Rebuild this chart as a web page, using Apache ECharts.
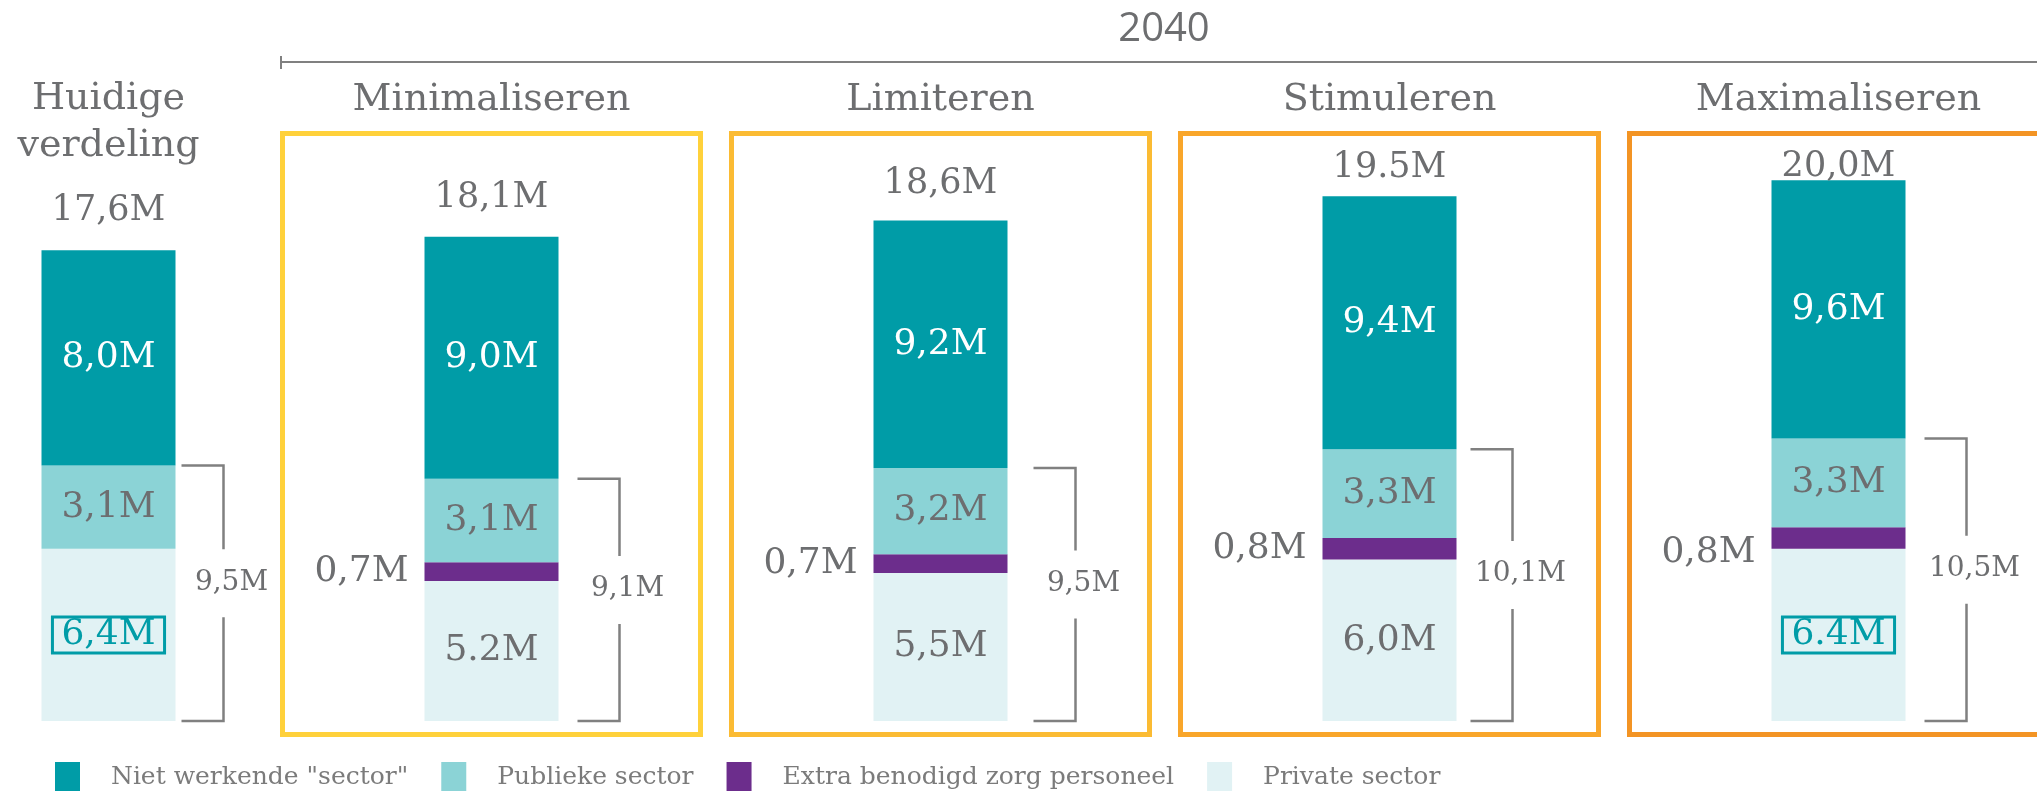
<!DOCTYPE html>
<html>
<head>
<meta charset="utf-8">
<script src="https://cdn.jsdelivr.net/npm/echarts@6/dist/echarts.min.js"></script>
<style>
  html, body { margin: 0; padding: 0; background: #fff; }
  #chart { width: 2037px; height: 791px; }
</style>
</head>
<body>
<div id="chart"></div>
<script>
// categories: first one is today, the other four are the 2040 scenarios
const categories = ['Huidige\nverdeling', 'Minimaliseren', 'Limiteren', 'Stimuleren', 'Maximaliseren']
const seriesNames = ['Niet werkende "sector"', 'Publieke sector', 'Extra benodigd zorg personeel', 'Private sector']

// values in millions
const nietWerkend = [8.0, 9.0, 9.2, 9.4, 9.6]
const publiek = [3.1, 3.1, 3.2, 3.3, 3.3]
const extraZorg = [0, 0.7, 0.7, 0.8, 0.8]
const privaat = [6.4, 5.2, 5.5, 6.0, 6.4]

// texts as printed in the picture
const privaatLabels = ['6,4M', '5.2M', '5,5M', '6,0M', '6.4M']
const privaatOmkaderd = [true, false, false, false, true]
const totaalLabels = ['17,6M', '18,1M', '18,6M', '19.5M', '20,0M']
const werkendLabels = ['9,5M', '9,1M', '9,5M', '10,1M', '10,5M']
const periodeLabel = '2040'

const groups = [[0], [1, 2, 3, 4]]

const gray = '#6d6e70'
const lineGray = '#808080'
const serif = "'DejaVu Serif', serif"
const colors = ['#009ca7', '#8bd3d6', '#6c2d8c', '#e1f2f4']
const boxColors = ['#ffd13b', '#fbbb33', '#f9a62a', '#f39424']
// small per-bar nudges so labels sit where the original put them
const totalLift = [19, 19, 17, 8, -7]
const extraDrop = [0, 0, 0, 0, 15]
const bracketGap = [6, 19, 26, 14, 19]
const barWidth = 134

const comma = (v) => v.toFixed(1).replace('.', ',') + 'M'

const chart = echarts.init(document.getElementById('chart'))

const bracketRenderer = (idxs) => (params, api) => {
  const i = idxs[params.dataIndex]
  const base = api.coord([api.value(0), 0])
  const top = api.coord([api.value(0), api.value(1)])
  const x1 = base[0] + barWidth / 2 + bracketGap[i]
  const x2 = x1 + 42
  const mid = (base[1] + top[1]) / 2 - 11
  const lineStyle = { stroke: lineGray, lineWidth: 2.5, fill: null }
  return {
    type: 'group',
    children: [
      { type: 'polyline', shape: { points: [[x1, top[1]], [x2, top[1]], [x2, mid - 33]] }, style: lineStyle },
      { type: 'polyline', shape: { points: [[x2, mid + 35], [x2, base[1]], [x1, base[1]]] }, style: lineStyle },
      {
        type: 'text', x: x2 + 8, y: mid,
        style: { text: werkendLabels[i], fontSize: 28, fontFamily: serif, fill: gray, align: 'center', verticalAlign: 'middle' },
      },
    ],
  }
}

const renderBox = (params, api) => {
  const c = api.coord([api.value(0), 0])
  const w = api.size([1, 0])[0] - 31
  const top = params.coordSys.y + 4.5
  return {
    type: 'rect',
    shape: { x: c[0] - w / 2, y: top, width: w, height: c[1] + 13.5 - top },
    style: { stroke: boxColors[params.dataIndex], lineWidth: 5, fill: null },
  }
}

const series = []
groups.forEach((idxs, g) => {
  const common = { type: 'bar', stack: 'g' + g, xAxisIndex: g, yAxisIndex: g, barWidth, clip: false, z: 3 }
  const labelBase = { show: true, fontFamily: serif, fontSize: 36, color: gray }

  series.push({
    ...common,
    name: seriesNames[3],
    itemStyle: { color: colors[3] },
    label: { ...labelBase, position: 'inside', formatter: (p) => privaatLabels[idxs[p.dataIndex]] },
    data: idxs.map((i) => privaatOmkaderd[i]
      ? { value: privaat[i], label: { color: colors[0], borderColor: colors[0], borderWidth: 3, padding: [1, 9, -1, 9] } }
      : privaat[i]),
  })
  series.push({
    ...common,
    name: seriesNames[2],
    itemStyle: { color: colors[2] },
    label: { ...labelBase, position: 'left', distance: 16, formatter: (p) => (p.value ? comma(p.value) : '') },
    data: idxs.map((i) => ({ value: extraZorg[i], label: { offset: [0, extraDrop[i]] } })),
  })
  series.push({
    ...common,
    name: seriesNames[1],
    itemStyle: { color: colors[1] },
    label: { ...labelBase, position: 'inside', formatter: (p) => comma(p.value) },
    data: idxs.map((i) => publiek[i]),
  })
  series.push({
    ...common,
    name: seriesNames[0],
    itemStyle: { color: colors[0] },
    label: { ...labelBase, position: 'inside', color: '#fff', formatter: (p) => comma(p.value) },
    data: idxs.map((i) => nietWerkend[i]),
  })
  // totals above the bars
  series.push({
    type: 'scatter',
    name: 'totaal',
    xAxisIndex: g,
    yAxisIndex: g,
    symbolSize: 0,
    silent: true,
    clip: false,
    z: 4,
    itemStyle: { opacity: 1 },
    label: {
      show: true, position: 'top', fontFamily: serif, fontSize: 35, color: gray, lineHeight: 40,
      formatter: (p) => totaalLabels[idxs[p.dataIndex]],
    },
    data: idxs.map((i) => ({
      value: nietWerkend[i] + publiek[i] + extraZorg[i] + privaat[i],
      label: { distance: totalLift[i] },
    })),
  })
  // bracket for the working population
  series.push({
    type: 'custom',
    name: 'werkend',
    xAxisIndex: g,
    yAxisIndex: g,
    silent: true,
    clip: false,
    z: 4,
    renderItem: bracketRenderer(idxs),
    data: idxs.map((i, k) => [k, publiek[i] + extraZorg[i] + privaat[i]]),
  })
})

series.push({
  type: 'custom',
  name: 'kaders',
  xAxisIndex: 1,
  yAxisIndex: 1,
  silent: true,
  clip: false,
  z: 1,
  renderItem: renderBox,
  data: groups[1].map((i, k) => [k, 0]),
})

const xAxisCommon = {
  type: 'category',
  position: 'top',
  axisLine: { show: false },
  axisTick: { show: false },
  axisLabel: { interval: 0, fontFamily: serif, fontSize: 38, color: gray, lineHeight: 47 },
}

const option = {
  animation: false,
  backgroundColor: '#fff',
  grid: [
    { left: 0, width: 217, top: 183, bottom: 70 },
    // scenario bars sit on the category points, 449px apart
    { left: 491.5, right: 198.5, top: 129, bottom: 70 },
  ],
  xAxis: [
    { ...xAxisCommon, gridIndex: 0, data: groups[0].map((i) => categories[i]), axisLabel: { ...xAxisCommon.axisLabel, margin: 13.5 } },
    { ...xAxisCommon, gridIndex: 1, boundaryGap: false, data: groups[1].map((i) => categories[i]), axisLabel: { ...xAxisCommon.axisLabel, margin: 5.5 } },
  ],
  yAxis: [
    { type: 'value', gridIndex: 0, min: 0, max: 20, show: false },
    { type: 'value', gridIndex: 1, min: 0, max: 22, show: false },
  ],
  legend: {
    data: seriesNames,
    left: 55,
    top: 762,
    padding: 0,
    icon: 'rect',
    itemWidth: 25,
    itemHeight: 30,
    itemGap: 33,
    textStyle: { fontFamily: serif, fontSize: 25, color: '#7b7b7b', padding: [0, 0, 0, 26] },
  },
  graphic: [
    { type: 'line', shape: { x1: 281, y1: 62, x2: 2037, y2: 62 }, style: { stroke: lineGray, lineWidth: 2 } },
    { type: 'line', shape: { x1: 281, y1: 56, x2: 281, y2: 69 }, style: { stroke: lineGray, lineWidth: 2 } },
    {
      type: 'text', x: 1164, y: 30,
      style: { text: periodeLabel, fontFamily: "'Open Sans', sans-serif", fontSize: 40, fill: gray, align: 'center', verticalAlign: 'middle' },
    },
  ],
  series,
}

chart.setOption(option)
</script>
</body>
</html>
